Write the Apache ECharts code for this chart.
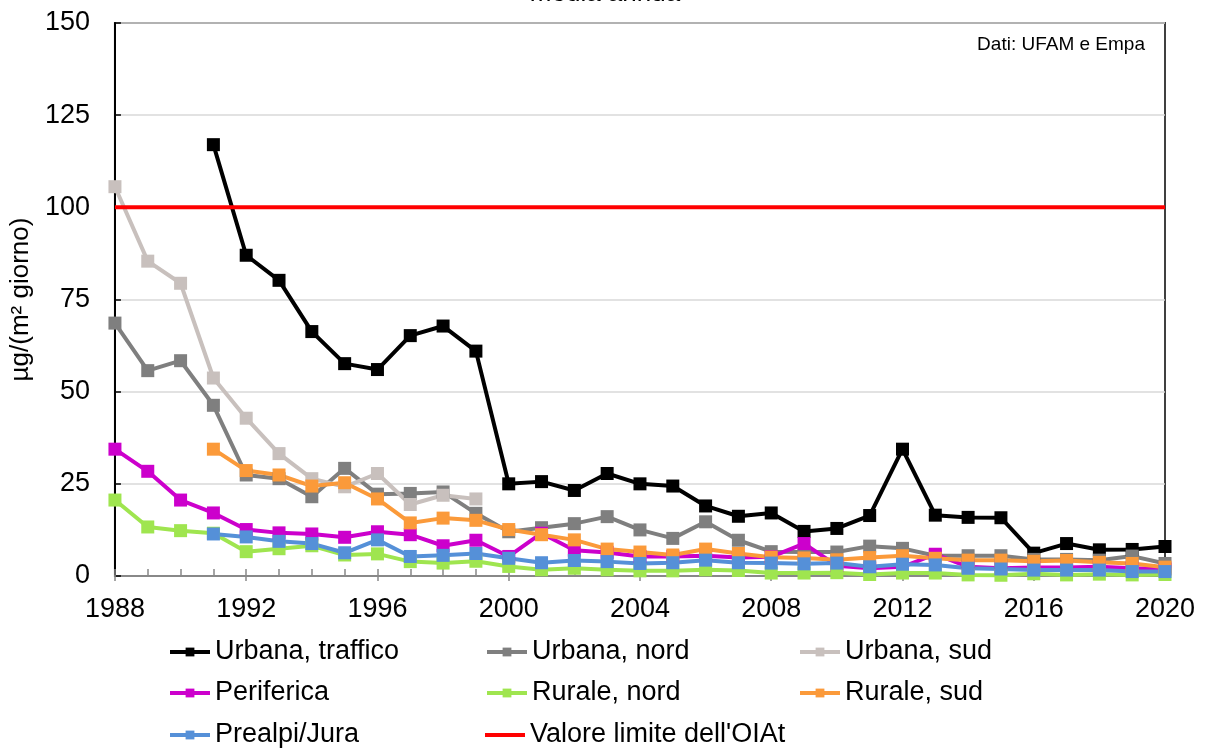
<!DOCTYPE html>
<html>
<head>
<meta charset="utf-8">
<script src="https://cdn.jsdelivr.net/npm/echarts@6/dist/echarts.min.js"></script>
<style>
html,body{margin:0;padding:0;background:#fff;}
#c{width:1210px;height:751px;}
</style>
</head>
<body>
<div id="c"></div>
<script>
var years = [1988,1989,1990,1991,1992,1993,1994,1995,1996,1997,1998,1999,2000,2001,2002,2003,2004,2005,2006,2007,2008,2009,2010,2011,2012,2013,2014,2015,2016,2017,2018,2019,2020];
var urbanaTraffico = [null,null,null,117,87,80.2,66.3,57.6,56,65.2,67.8,61,25,25.6,23.2,27.8,25,24.4,19,16.2,17.1,12.1,12.9,16.4,34.4,16.5,15.9,15.8,6.2,8.8,7.1,7.2,8.0];
var urbanaNord = [68.6,55.7,58.4,46.3,27.4,26.4,21.5,29.2,22.2,22.4,22.8,17,12,13.1,14.2,16.1,12.5,10.2,14.7,9.7,6.6,6.5,6.5,8.1,7.5,5.5,5.5,5.5,4.5,4.5,4.3,5.4,3.4];
var urbanaSud = [105.6,85.4,79.4,53.7,42.8,33.2,26.4,24.2,27.8,19.4,21.9,20.9,null,null,null,null,null,null,null,null,null,null,null,null,null,null,null,null,null,null,null,null,null];
var periferica = [34.4,28.4,20.6,17.1,12.6,11.7,11.4,10.5,12,11.2,8.2,9.7,5.3,11.6,7.0,6.4,5.3,5.3,5.5,5.0,5.2,8.8,2.8,2.1,2.5,5.9,2.5,2.1,2.3,2.3,2.5,2.1,1.9];
var ruraleNord = [20.6,13.3,12.3,11.6,6.6,7.4,8.2,5.7,6.0,3.9,3.5,4.0,2.6,1.7,2.1,1.7,1.4,1.4,1.7,1.5,0.8,0.8,0.9,0.4,0.8,0.8,0.3,0.2,0.6,0.3,0.5,0.3,0.4];
var ruraleSud = [null,null,null,34.4,28.6,27.4,24.4,25.3,20.9,14.4,15.7,15.1,12.6,11.2,9.8,7.3,6.5,5.7,7.3,6.1,5.1,4.9,4.4,5.0,5.5,4.8,4.3,4.3,4.0,4.2,3.7,3.4,2.4];
var prealpiJura = [null,null,null,11.4,10.6,9.4,8.8,6.3,9.8,5.3,5.6,6.1,4.8,3.6,4.2,3.9,3.4,3.6,4.3,3.6,3.5,3.3,3.5,2.5,3.2,3.0,2.1,1.9,1.6,1.6,1.6,1.2,1.2];
var limitYears = [1988,2020];
var limitValues = [100,100];
var yTicks = [0,25,50,75,100,125,150];

var seriesDefs = [
  {name:'Urbana, traffico', data:urbanaTraffico, color:'#000000'},
  {name:'Urbana, nord', data:urbanaNord, color:'#7f7f7f'},
  {name:'Urbana, sud', data:urbanaSud, color:'#c8c0bd'},
  {name:'Periferica', data:periferica, color:'#cc00cc'},
  {name:'Rurale, nord', data:ruraleNord, color:'#9fe54f'},
  {name:'Rurale, sud', data:ruraleSud, color:'#fb9a3a'},
  {name:'Prealpi/Jura', data:prealpiJura, color:'#5590d8'}
];
var limitName = "Valore limite dell'OIAt";

var FONT = 'Liberation Sans, Arial, sans-serif';
var series = seriesDefs.map(function(s){
  return {
    name:s.name, type:'line', xAxisIndex:0, yAxisIndex:0,
    data: years.map(function(y,i){ return s.data[i]==null ? [y,null] : [y,s.data[i]]; }),
    connectNulls:false,
    symbol:'rect', symbolSize:13, showAllSymbol:true,
    lineStyle:{color:s.color, width:4},
    itemStyle:{color:s.color},
    emphasis:{disabled:true},
    animation:false
  };
});
series.push({
  name:limitName, type:'line', xAxisIndex:0, yAxisIndex:0,
  data: limitYears.map(function(y,i){ return [y,limitValues[i]]; }),
  symbol:'none', lineStyle:{color:'#ff0000', width:4}, itemStyle:{color:'#ff0000'},
  emphasis:{disabled:true}, animation:false
});

// legend layout: [name, left, rowCenterY]
var legendLayout = [
  ['Urbana, traffico',168,652], ['Urbana, nord',485,652], ['Urbana, sud',798,652],
  ['Periferica',168,693], ['Rurale, nord',485,693], ['Rurale, sud',798,693],
  ['Prealpi/Jura',168,735], [limitName,485,735]
];
var legends = legendLayout.map(function(L){
  var isLimit = L[0]===limitName;
  return {
    orient:'horizontal', left:L[1], top:L[2]-14, padding:0,
    itemWidth:40, itemHeight:isLimit?4:11,
    lineStyle:{width:4},
    textStyle:{fontFamily:FONT, fontSize:27, color:'#000', lineHeight:28},
    selectedMode:false,
    data:[isLimit ? {name:L[0], icon:'rect'} : L[0]]
  };
});

var chart = echarts.init(document.getElementById('c'), null, {renderer:'canvas'});
chart.setOption({
  animation:false,
  backgroundColor:'#ffffff',
  grid:{left:113, right:45, top:23, bottom:175, show:true, borderColor:'#404040', borderWidth:2, backgroundColor:'transparent'},
  xAxis:[{
    type:'value', min:1988, max:2020, interval:4,
    axisLine:{show:true, lineStyle:{color:'#888888', width:2}},
    axisTick:{show:true, inside:true, length:7, lineStyle:{color:'#888888', width:1.5}},
    minorTick:{show:true, splitNumber:4, length:7, lineStyle:{color:'#888888', width:1.5}},
    splitLine:{show:false},
    axisLabel:{fontFamily:FONT, fontSize:27, color:'#000', margin:20, formatter:function(v){return String(v);}}
  },{
    type:'value', min:1988, max:2020, interval:4, position:'bottom',
    axisLine:{show:false},
    axisTick:{show:true, inside:false, length:5, lineStyle:{color:'#888888', width:1.5}},
    axisLabel:{show:false}, splitLine:{show:false}
  }],
  yAxis:[{
    type:'value', min:0, max:150, interval:25,
    name:'µg/(m² giorno)', nameLocation:'middle', nameGap:72, nameRotate:90,
    nameTextStyle:{fontFamily:FONT, fontSize:26, color:'#000', padding:[0,0,0,0]},
    axisLine:{show:true, lineStyle:{color:'#000000', width:2}},
    axisTick:{show:true, inside:true, length:6, lineStyle:{color:'#000', width:1.5}},
    splitLine:{show:true, lineStyle:{color:'#d9d9d9', width:1.5}},
    axisLabel:{fontFamily:FONT, fontSize:27, color:'#000', margin:25,
      formatter:function(v){ return yTicks.indexOf(v)>=0 ? String(v) : ''; }}
  }],
  legend:legends,
  graphic:[
    {type:'text', left:'center', top:-19, style:{text:'media annua', font:'26px '+FONT, fill:'#000'}, z:100},
    {type:'text', right:65, top:35, style:{text:'Dati: UFAM e Empa', font:'19px '+FONT, fill:'#000'}, z:100}
  ],
  series:series
});
</script>
</body>
</html>
